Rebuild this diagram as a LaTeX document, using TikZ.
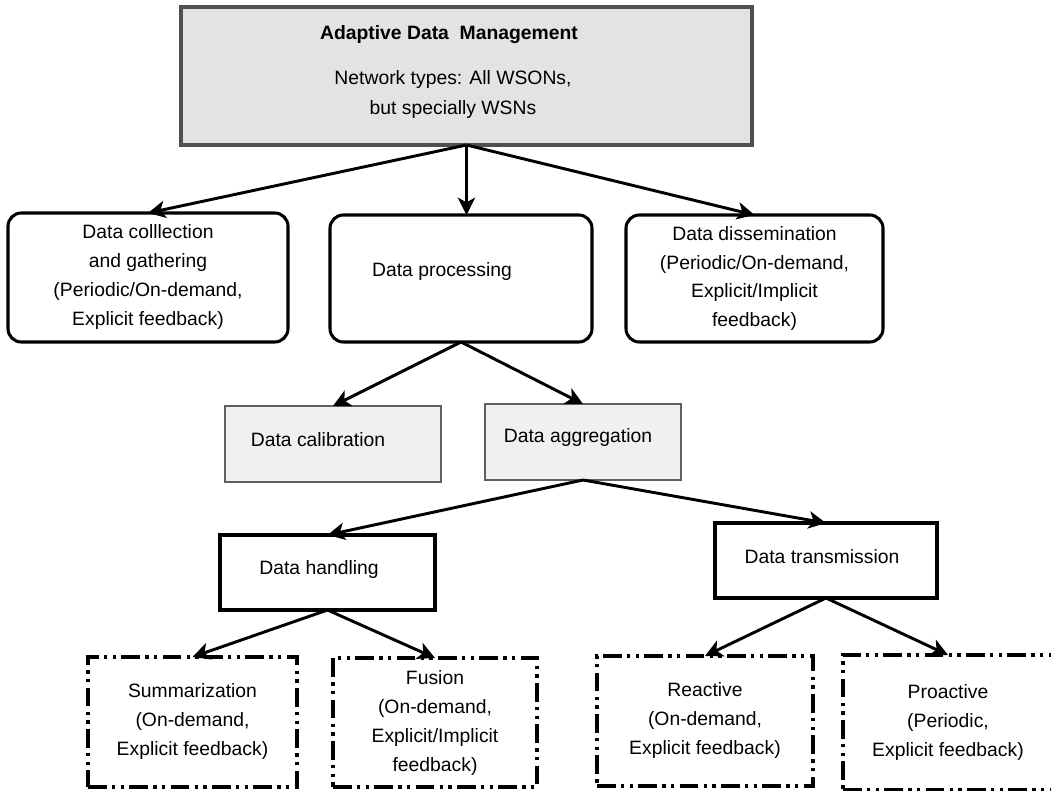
\documentclass[tikz,border=0pt]{standalone}
\usepackage{fontspec}
\setmainfont{Liberation Sans}
\usetikzlibrary{arrows.meta}
\definecolor{topfill}{RGB}{227,227,227}
\definecolor{topline}{RGB}{80,80,80}
\definecolor{midfill}{RGB}{240,240,240}
\definecolor{midline}{RGB}{96,96,96}
\begin{document}
\begin{tikzpicture}[x=0.75pt,y=-0.75pt,
  every node/.style={inner sep=0pt, outer sep=0pt, font=\fontsize{14.5}{21.75}\selectfont, align=center},
  topbox/.style={draw=topline, fill=topfill, line width=2.6pt},
  rbox/.style={draw=black, line width=2.3pt, rounded corners=10pt},
  graybox/.style={draw=midline, fill=midfill, line width=2pt},
  plainbox/.style={draw=black, line width=2.3pt},
  dashbox/.style={draw=black, line width=2.3pt, dash pattern=on 14pt off 4pt on 2.5pt off 4pt on 2.5pt off 4pt},
  lbl/.style={},
  arr/.style={line width=2.2pt, -{Stealth[length=13pt,width=13pt,inset=3.5pt]}}
]
\useasboundingbox (0,0) rectangle (1051,791);
\fill[white] (0,0) rectangle (1051,791);

% boxes
\node[topbox, minimum width={571*0.75pt}, minimum height={138*0.75pt}] (top) at (466.5,76) {};
\node[lbl] (ttitle) at (449,35) {\bfseries Adaptive Data~~Management};
\node[lbl, font=\fontsize{14.5}{22.5}\selectfont] (tnet) at (453,95) {Network types: All WSONs,\\but specially WSNs};

\node[rbox, minimum width={280*0.75pt}, minimum height={129*0.75pt}] (coll) at (148,277.5)
  {Data colllection\\and gathering\\(Periodic/On-demand,\\Explicit feedback)};
\node[rbox, minimum width={262*0.75pt}, minimum height={127*0.75pt}] (proc) at (461,278.5) {};
\node[lbl] (tproc) at (442,272) {Data processing};
\node[rbox, minimum width={257*0.75pt}, minimum height={127*0.75pt}] (diss) at (754.5,278.5)
  {Data dissemination\\(Periodic/On-demand,\\Explicit/Implicit\\feedback)};

\node[graybox, minimum width={216*0.75pt}, minimum height={76*0.75pt}] (cal) at (333,444) {};
\node[lbl] (tcal) at (318,440) {Data calibration};
\node[graybox, minimum width={196*0.75pt}, minimum height={76*0.75pt}] (agg) at (583,442) {};
\node[lbl] (tagg) at (578,438) {Data aggregation};

\node[plainbox, minimum width={215*0.75pt}, minimum height={75*0.75pt}] (hand) at (327.5,572.5) {};
\node[lbl] (thand) at (319,570) {Data handling};
\node[plainbox, minimum width={222*0.75pt}, minimum height={75*0.75pt}] (trans) at (826,560.5) {};
\node[lbl] (ttrans) at (822,557) {Data transmission};

\node[dashbox, minimum width={209*0.75pt}, minimum height={130*0.75pt}] (summ) at (192.5,722)
  {Summarization\\(On-demand,\\Explicit feedback)};
\node[dashbox, minimum width={204*0.75pt}, minimum height={129*0.75pt}] (fus) at (435,722.5)
  {Fusion\\(On-demand,\\Explicit/Implicit\\feedback)};
\node[dashbox, minimum width={216*0.75pt}, minimum height={130*0.75pt}] (reac) at (705,721)
  {Reactive\\(On-demand,\\Explicit feedback)};
\node[dashbox, minimum width={210*0.75pt}, minimum height={135*0.75pt}] (proa) at (948,722.5)
  {Proactive\\(Periodic,\\Explicit feedback)};

% connectors
\draw[arr] (top.south) -- (coll.north);
\draw[arr] (top.south) -- (top.south |- proc.north);
\draw[arr] (top.south) -- (diss.north);
\draw[arr] (proc.south) -- (cal.north);
\draw[arr] (proc.south) -- (agg.north);
\draw[arr] (agg.south) -- (hand.north);
\draw[arr] (agg.south) -- (trans.north);
\draw[arr] (hand.south) -- (summ.north);
\draw[arr] (hand.south) -- (fus.north);
\draw[arr] (trans.south) -- (reac.north);
\draw[arr] (trans.south) -- (proa.north);
\end{tikzpicture}
\end{document}
